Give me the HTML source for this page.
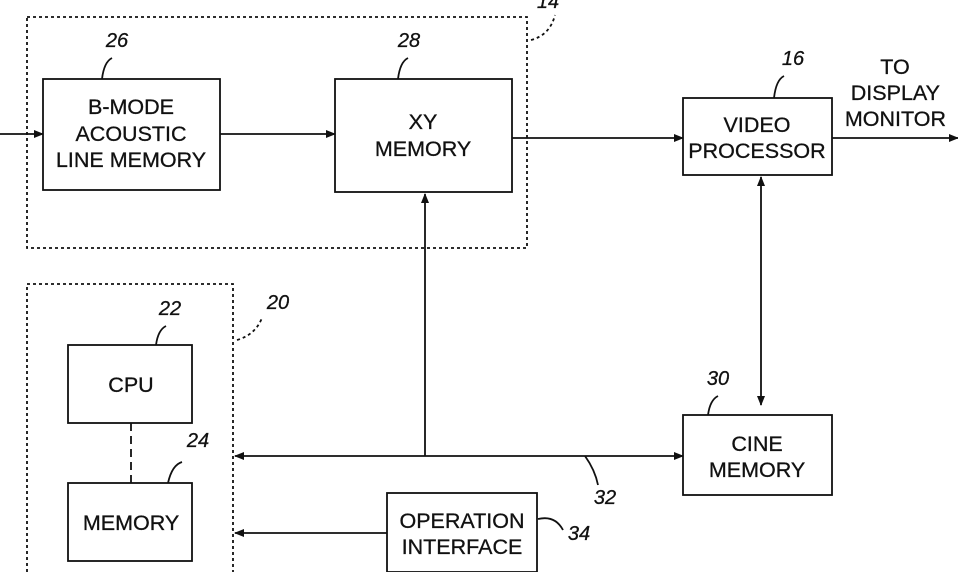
<!DOCTYPE html>
<html><head><style>body{margin:0;background:#fff}svg{display:block}text{font-family:"Liberation Sans",sans-serif;font-size:21.5px;fill:#111;text-anchor:middle;stroke:#111;stroke-width:0.3}.l{font-style:italic;font-size:20px}.e{text-anchor:end}</style></head><body>
<svg width="958" height="572" viewBox="0 0 958 572" xmlns="http://www.w3.org/2000/svg">
<defs><marker id="a" markerWidth="10" markerHeight="8" refX="9" refY="4" orient="auto" markerUnits="userSpaceOnUse"><path d="M0,0 L10,4 L0,8 z" fill="#111"/></marker></defs>
<g fill="none" stroke="#111" stroke-width="1.8">
<rect x="27" y="17" width="500" height="231" stroke-dasharray="3,3"/>
<path d="M27,572 V284 H233 V572" stroke-dasharray="3,3"/>
<rect x="43" y="79" width="177" height="111"/>
<rect x="335" y="79" width="177" height="113"/>
<rect x="683" y="98" width="149" height="77"/>
<rect x="683" y="415" width="149" height="80"/>
<rect x="68" y="345" width="124" height="78"/>
<rect x="68" y="483" width="124" height="78"/>
<rect x="387" y="493" width="150" height="79"/>
<path d="M131,423 V483" stroke-dasharray="8,5"/>
<path d="M0,134 H43" marker-end="url(#a)"/>
<path d="M220,134 H335" marker-end="url(#a)"/>
<path d="M512,138 H683" marker-end="url(#a)"/>
<path d="M832,138 H958" marker-end="url(#a)"/>
<path d="M761,195 V405" marker-end="url(#a)"/>
<path d="M761,195 V177" marker-end="url(#a)"/>
<path d="M425,456 H683" marker-end="url(#a)"/>
<path d="M425,456 H235" marker-end="url(#a)"/>
<path d="M425,456 V194" marker-end="url(#a)"/>
<path d="M387,533 H235" marker-end="url(#a)"/>
<path d="M102,79 Q104,62 112,58" /><path d="M398,79 Q400,62 408,58"/>
<path d="M774,98 Q776,80 784,76"/><path d="M708,415 Q710,400 718,396"/>
<path d="M156,345 Q158,330 166,326"/><path d="M168,483 Q172,465 182,462"/>
<path d="M538,519 Q555,515 563,530"/><path d="M585,456 Q595,470 598,485"/>
<path d="M237,340 Q255,335 262,318" stroke-dasharray="3,3"/>
<path d="M531,40 Q550,35 555,15" stroke-dasharray="3,3"/>
</g>
<text x="131" y="114">B-MODE</text><text x="131" y="141">ACOUSTIC</text><text x="131" y="167">LINE MEMORY</text>
<text x="423" y="129">XY</text><text x="423" y="156">MEMORY</text>
<text x="757" y="132">VIDEO</text><text x="757" y="158">PROCESSOR</text>
<text x="757" y="451">CINE</text><text x="757" y="477">MEMORY</text>
<text x="131" y="392">CPU</text><text x="131" y="530">MEMORY</text>
<text x="462" y="528">OPERATION</text><text x="462" y="554">INTERFACE</text>
<text x="895" y="74">TO</text><text class="e" x="940" y="100">DISPLAY</text><text class="e" x="946" y="126">MONITOR</text>
<text class="l" x="117" y="47">26</text><text class="l" x="409" y="47">28</text><text class="l" x="548" y="8">14</text>
<text class="l" x="793" y="65">16</text><text class="l" x="718" y="385">30</text><text class="l" x="170" y="315">22</text>
<text class="l" x="198" y="447">24</text><text class="l" x="278" y="309">20</text><text class="l" x="605" y="504">32</text>
<text class="l" x="579" y="540">34</text>
</svg></body></html>
